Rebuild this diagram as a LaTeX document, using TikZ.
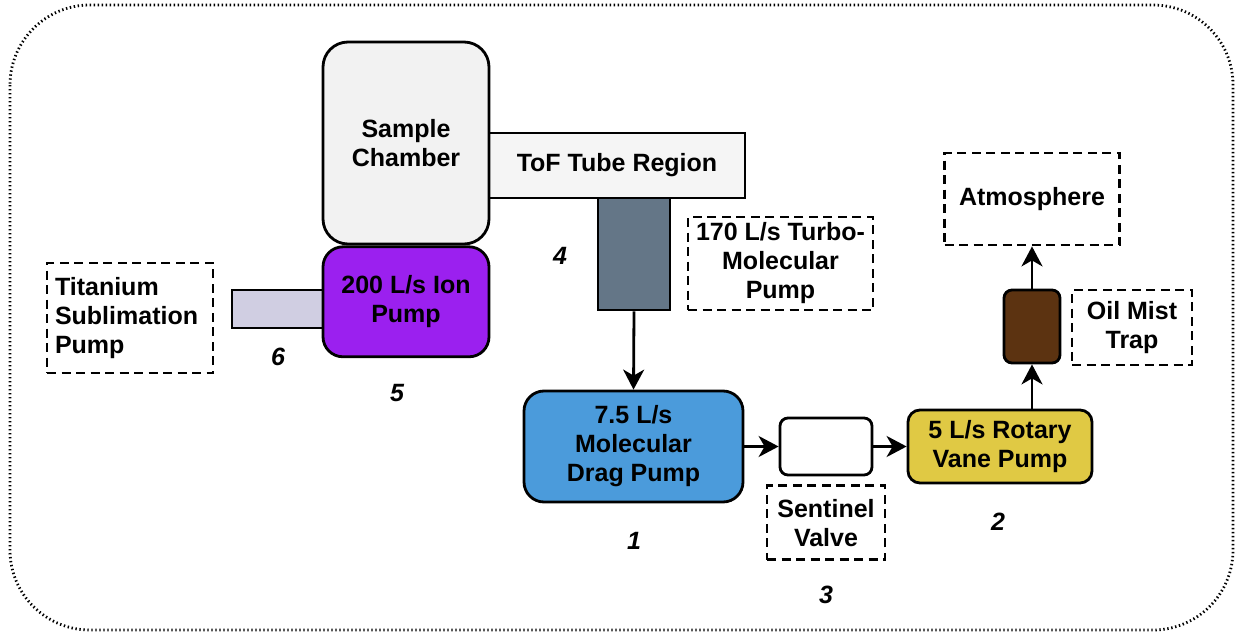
\documentclass[tikz,border=0pt]{standalone}
\usepackage{fontspec}
\setmainfont{Liberation Sans}
\usetikzlibrary{arrows.meta,positioning}

\definecolor{chamberfill}{HTML}{F2F2F2}
\definecolor{tubefill}{HTML}{F5F5F5}
\definecolor{ionfill}{HTML}{9B20EF}
\definecolor{tspfill}{HTML}{D0CEE2}
\definecolor{turbofill}{HTML}{647687}
\definecolor{dragfill}{HTML}{4B9BDB}
\definecolor{rotaryfill}{HTML}{E0C944}
\definecolor{trapfill}{HTML}{5C3311}

\begin{document}
\begin{tikzpicture}[
        x=1pt, y=-1pt,
        font=\fontsize{25}{29}\selectfont\bfseries,
        part/.style={draw, line width=2.8pt, align=center, inner sep=2pt},
        pump/.style={part, rounded corners=20pt},
        note/.style={draw, line width=2.8pt, dash pattern=on 9pt off 5.5pt,
                     align=center, inner sep=2pt},
        tag/.style={font=\fontsize{25}{29}\selectfont\bfseries\itshape},
        flow/.style={-{Stealth[length=20pt, width=21pt, inset=6pt]}, line width=2.8pt},
        frame/.style={line width=2.8pt, dash pattern=on 1.4pt off 2.6pt,
                      rounded corners=80pt}
    ]
        \useasboundingbox (0,0) rectangle (1239,634);
        \draw[frame] (10,5) rectangle (1233,630);

        % high vacuum side
        \node[part, fill=tubefill, minimum width=256pt, minimum height=65pt]
            (tube) at (617,165.5) {ToF Tube Region};
        \node[pump, fill=chamberfill, rounded corners=25pt, minimum width=166pt,
              minimum height=202pt] (chamber) at (406,143) {Sample\\Chamber};
        \node[part, fill=tspfill, minimum width=91pt, minimum height=38pt]
            (tsp) at (277.5,309) {};
        \node[pump, fill=ionfill, minimum width=166pt, minimum height=110pt,
              below=0pt of chamber] (ion) {200 L/s Ion\\Pump};
        \node[note, text width=150pt, inner xsep=8pt, align=left,
              minimum height=110pt] (tsplabel) at (130,318)
            {Titanium\\Sublimation\\Pump};
        \node[part, fill=turbofill, minimum width=72pt, minimum height=112pt]
            (turbo) at (634,254) {};
        \node[note, minimum width=185pt, minimum height=93pt]
            (turbolabel) at (780.5,263.5) {170 L/s Turbo-\\Molecular\\Pump};

        % backing line
        \node[pump, fill=dragfill, minimum width=219pt, minimum height=111pt]
            (drag) at (633.5,446.5) {7.5 L/s\\Molecular\\Drag Pump};
        \node[pump, fill=white, rounded corners=8pt, minimum width=92pt,
              minimum height=57pt] (valve) at (826,446.5) {};
        \node[note, minimum width=118pt, minimum height=74pt,
              below=8pt of valve] (valvelabel) {Sentinel\\Valve};
        \node[pump, fill=rotaryfill, rounded corners=12pt, minimum width=184pt,
              minimum height=73pt] (rotary) at (1000,446.5) {5 L/s Rotary\\Vane Pump};
        \node[pump, fill=trapfill, rounded corners=8pt, minimum width=56pt,
              minimum height=73pt] (trap) at (1032,326.5) {};
        \node[note, minimum width=120pt, minimum height=75pt]
            (traplabel) at (1132,327.5) {Oil Mist\\Trap};
        \node[note, minimum width=175pt, minimum height=92pt]
            (atmos) at (1032,199) {Atmosphere};

        % stage numbers
        \node[tag] (n1) at (634,541) {1};
        \node[tag] (n2) at (998,522) {2};
        \node[tag] (n3) at (826,595) {3};
        \node[tag] (n4) at (560,256) {4};
        \node[tag] (n5) at (397,393) {5};
        \node[tag] (n6) at (278,357) {6};

        \draw[flow] (turbo.south) -- (drag.north);
        \draw[flow] (drag.east) -- (valve.west);
        \draw[flow] (valve.east) -- (rotary.west);
        \draw[flow] (rotary.north -| trap.south) -- (trap.south);
        \draw[flow] (trap.north) -- (atmos.south);
    \end{tikzpicture}
\end{document}
